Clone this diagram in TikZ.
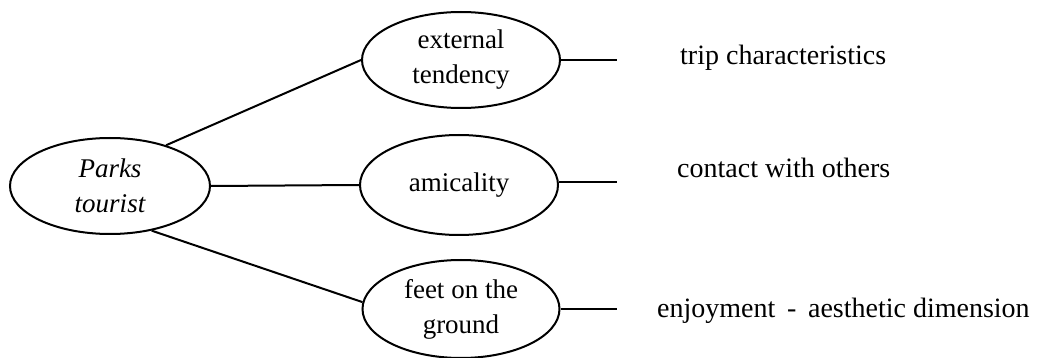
\documentclass[tikz,border=0pt]{standalone}
\usepackage{fontspec}
\setmainfont{Liberation Serif}
\usetikzlibrary{shapes.geometric}
\begin{document}
\begin{tikzpicture}[x=1pt,y=-1pt,
  oval/.style={ellipse,draw,line width=2pt,inner sep=0pt,align=center,
    font=\fontsize{27}{35}\selectfont},
  link/.style={line width=2pt},
  note/.style={anchor=base west,inner sep=0pt,font=\fontsize{28}{34}\selectfont}]
\useasboundingbox (0,0) rectangle (1037,358);
% central concept
\node[oval,minimum width=200pt,minimum height=96pt] (parks) at (110,186) {\itshape Parks\\\itshape tourist};
% three dimensions
\node[oval,minimum width=198pt,minimum height=96pt] (ext) at (461,60) {external\\tendency};
\node[oval,minimum width=198pt,minimum height=100pt] (ami) at (459,185) {amicality};
\node[oval,minimum width=197pt,minimum height=98pt] (feet) at (461,309) {feet on the\\ground};
% links from the central concept
\draw[link] (parks.36) -- (ext.west);
\draw[link] (parks.east) -- (ami.west);
\draw[link] (parks.-47) -- (feet.176);
% short leaders to the descriptions
\coordinate (e1) at (617,60);
\coordinate (e2) at (617,182);
\coordinate (e3) at (617,309);
\draw[link] (ext.east) -- (e1);
\draw[link] (ami.east |- e2) -- (e2);
\draw[link] (feet.east) -- (e3);
% descriptions
\node[note] (d1) at (680,65) {trip characteristics};
\node[note] (d2) at (677,178) {contact with others};
\node[note] (d3) at (657,317) {enjoyment\, -\, aesthetic dimension};
\end{tikzpicture}
\end{document}
